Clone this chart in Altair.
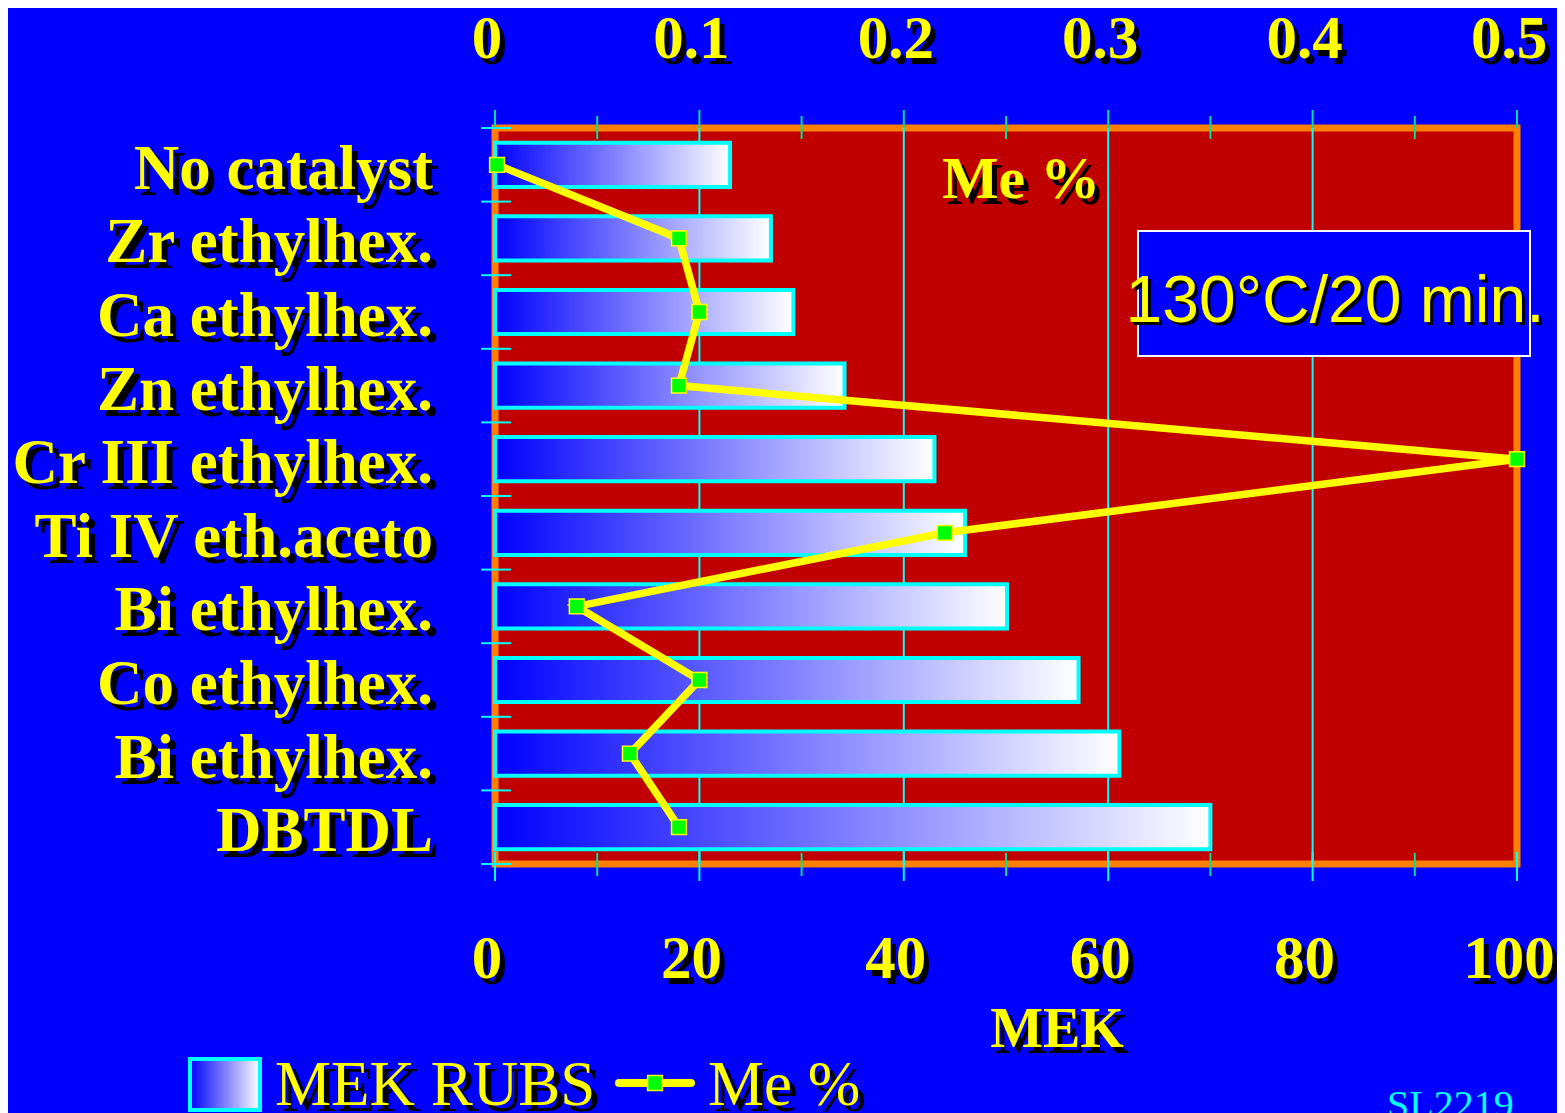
import altair as alt
import pandas as pd

# ---------------- data ----------------
categories = ["No catalyst", "Zr ethylhex.", "Ca ethylhex.", "Zn ethylhex.",
              "Cr III ethylhex.", "Ti IV eth.aceto", "Bi ethylhex.",
              "Co ethylhex.", "Bi ethylhex.", "DBTDL"]
mek_rubs = [23.0, 27.0, 29.2, 34.2, 43.0, 46.0, 50.1, 57.1, 61.1, 70.0]
me_pct = [0.001, 0.090, 0.100, 0.090, 0.500, 0.220, 0.040, 0.100, 0.066, 0.090]

mek_ticks = [0, 20, 40, 60, 80, 100]
mek_tick_labels = ["0", "20", "40", "60", "80", "100"]
mek_minor = [10, 30, 50, 70, 90]
grid_vals = [20, 40, 60, 80]
me_ticks = [0, 0.1, 0.2, 0.3, 0.4, 0.5]
me_tick_labels = ["0", "0.1", "0.2", "0.3", "0.4", "0.5"]
me_minor = [0.05, 0.15, 0.25, 0.35, 0.45]
row_bounds = [-0.5, 0.5, 1.5, 2.5, 3.5, 4.5, 5.5, 6.5, 7.5, 8.5, 9.5]

# ---------------- style ----------------
W, H = 1022, 736
SERIF = "Liberation Serif, Times New Roman, serif"
SANS = "Liberation Sans, Arial, sans-serif"
YEL = "#FFFF00"
CYAN = "#00FFFF"
TEAL = "#00E090"
BLUE = "#0000FF"

xs = alt.Scale(domain=[0, 100], nice=False, zero=False)
ys = alt.Scale(domain=[-0.5, 9.5], reverse=True, nice=False, zero=False)

grad = alt.LinearGradient(
    gradient="linear",
    stops=[alt.GradientStop(color="#0000FF", offset=0),
           alt.GradientStop(color="#FFFFFF", offset=1)],
    x1=0, x2=1, y1=0, y2=0)

df = pd.DataFrame({"idx": list(range(len(categories))), "cat": categories,
                   "mek": mek_rubs, "me": me_pct})
base = alt.Chart(df).transform_calculate(
    zero="0", y0="datum.idx - 0.3", y1="datum.idx + 0.3", mepos="datum.me * 200")


def one(values):
    return alt.Chart(alt.Data(values=[values]))


# grid lines
grid = alt.Chart(pd.DataFrame({"v": grid_vals})).mark_rule(color=CYAN, strokeWidth=2).encode(
    x=alt.X("v:Q", scale=xs, axis=None), y=alt.value(0), y2=alt.value(H))

# bars
bars = base.mark_rect(fill=grad, stroke=CYAN, strokeWidth=4).encode(
    x=alt.X("zero:Q", scale=xs, axis=None), x2="mek:Q",
    y=alt.Y("y0:Q", scale=ys, axis=None), y2="y1:Q")

# line + markers
line = base.mark_line(color=YEL, strokeWidth=7.5).encode(
    x=alt.X("mepos:Q", scale=xs, axis=None),
    y=alt.Y("idx:Q", scale=ys, axis=None), order="idx:Q")
pts = base.mark_point(shape="square", filled=True, fill="#00FF00", stroke=YEL,
                      strokeWidth=1.5, size=220, opacity=1).encode(
    x=alt.X("mepos:Q", scale=xs, axis=None),
    y=alt.Y("idx:Q", scale=ys, axis=None))

# ticks
top_major = alt.Chart(pd.DataFrame({"v": mek_ticks})).mark_rule(color=TEAL, strokeWidth=2).encode(
    x=alt.X("v:Q", scale=xs, axis=None), y=alt.value(-18), y2=alt.value(0))
top_minor = alt.Chart(pd.DataFrame({"v": me_minor})).transform_calculate(p="datum.v * 200").mark_rule(
    color=TEAL, strokeWidth=2).encode(
    x=alt.X("p:Q", scale=xs, axis=None), y=alt.value(-12), y2=alt.value(11))
bot_major = alt.Chart(pd.DataFrame({"v": mek_ticks})).mark_rule(color=CYAN, strokeWidth=2).encode(
    x=alt.X("v:Q", scale=xs, axis=None), y=alt.value(H - 12), y2=alt.value(H + 17))
bot_minor = alt.Chart(pd.DataFrame({"v": mek_minor})).mark_rule(color=TEAL, strokeWidth=2).encode(
    x=alt.X("v:Q", scale=xs, axis=None), y=alt.value(H - 11), y2=alt.value(H + 12))
left_ticks = alt.Chart(pd.DataFrame({"b": row_bounds})).mark_rule(color=CYAN, strokeWidth=2).encode(
    y=alt.Y("b:Q", scale=ys, axis=None), x=alt.value(-14), x2=alt.value(16))

layers = [grid, bars, line, pts, top_major, top_minor, bot_major, bot_minor, left_ticks]

# category labels
for col, ox, oy in [("#000000", 6, 6), (YEL, 0, 0)]:
    layers.append(base.mark_text(align="right", baseline="alphabetic", font=SERIF,
                                 fontSize=63, fontWeight="bold", color=col, dx=ox, dy=24 + oy).encode(
        x=alt.value(-62), y=alt.Y("idx:Q", scale=ys, axis=None), text="cat:N"))

# top axis labels (Me %)
top_df = pd.DataFrame({"v": me_ticks, "lab": me_tick_labels})
for col, ox, oy in [("#000000", 5, 6), (YEL, 0, 0)]:
    layers.append(alt.Chart(top_df).transform_calculate(p="datum.v * 200").mark_text(
        align="center", baseline="alphabetic", font=SERIF, fontSize=61, fontWeight="bold",
        color=col, dx=-8 + ox, dy=oy).encode(
        x=alt.X("p:Q", scale=xs, axis=None), y=alt.value(-70), text="lab:N"))

# bottom axis labels (MEK)
bot_df = pd.DataFrame({"v": mek_ticks, "lab": mek_tick_labels})
for col, ox, oy in [("#000000", 5, 6), (YEL, 0, 0)]:
    layers.append(alt.Chart(bot_df).mark_text(
        align="center", baseline="alphabetic", font=SERIF, fontSize=61, fontWeight="bold",
        color=col, dx=-8 + ox, dy=oy).encode(
        x=alt.X("v:Q", scale=xs, axis=None), y=alt.value(850), text="lab:N"))


def annot(text, x, y, size, weight="bold", font=SERIF, align="center", color=YEL, sh=(5, 6)):
    out = []
    if sh:
        out.append(one({"t": text}).mark_text(align=align, baseline="alphabetic", font=font,
                                              fontSize=size, fontWeight=weight, color="#000000",
                                              dx=sh[0], dy=sh[1]).encode(
            x=alt.value(x), y=alt.value(y), text="t:N"))
    out.append(one({"t": text}).mark_text(align=align, baseline="alphabetic", font=font,
                                          fontSize=size, fontWeight=weight, color=color).encode(
        x=alt.value(x), y=alt.value(y), text="t:N"))
    return out


# axis title
layers += annot("MEK", 562, 919, 56)
# in-plot series label
layers += annot("Me %", 526, 70, 60)
# condition box
layers.append(one({"a": 1}).mark_rect(fill=BLUE, stroke="#FFFFFF", strokeWidth=2).encode(
    x=alt.value(643), x2=alt.value(1035), y=alt.value(103), y2=alt.value(228)))
layers += annot("130°C/20 min.", 840, 194, 66, weight="normal", font=SANS, sh=(3, 3))

# legend
layers.append(one({"a": 1}).mark_rect(fill=grad, stroke=CYAN, strokeWidth=4).encode(
    x=alt.value(-305), x2=alt.value(-235), y=alt.value(931), y2=alt.value(982)))
layers += annot("MEK RUBS", -220, 977, 63, weight="normal", align="left", sh=(6, 6))
layers.append(one({"a": 1}).mark_rule(color=YEL, strokeWidth=8, strokeCap="round").encode(
    x=alt.value(124), x2=alt.value(196), y=alt.value(955)))
layers.append(one({"a": 1}).mark_point(shape="square", filled=True, fill="#00FF00", stroke=YEL,
                                       strokeWidth=1.5, size=220, opacity=1).encode(
    x=alt.value(160), y=alt.value(955)))
layers += annot("Me %", 213, 977, 63, weight="normal", align="left", sh=(6, 6))

# slide id
layers += annot("SL2219", 892, 990, 40, weight="normal", align="left", color=CYAN, sh=None)

chart = alt.layer(*layers).properties(
    width=W, height=H,
    autosize=alt.AutoSizeParams(type="none"),
    padding={"left": 487, "top": 120, "right": 40, "bottom": 249},
    background=BLUE,
).configure_view(fill="#C00000", stroke="#FF8000", strokeWidth=7)

chart.save("out.html", embed_options={"renderer": "svg", "actions": False})
